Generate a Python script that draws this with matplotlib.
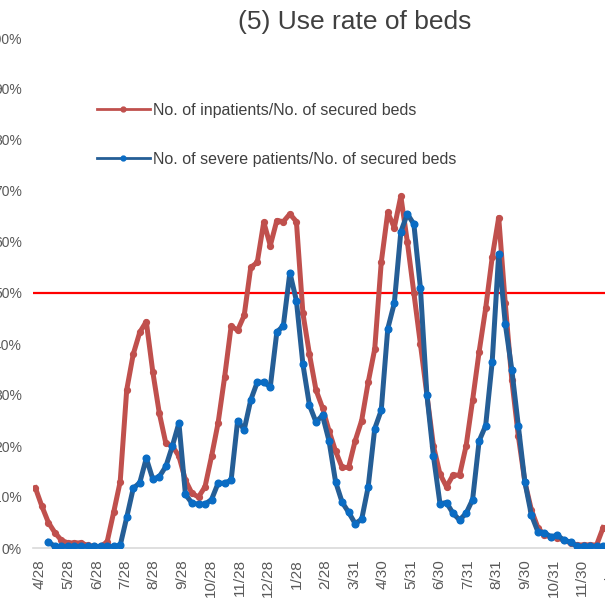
import numpy as np
import pandas as pd
import matplotlib
matplotlib.use("Agg")
import matplotlib.pyplot as plt
from matplotlib.lines import Line2D

plt.rcParams['font.family'] = ['Liberation Sans', 'DejaVu Sans']

# Weekly observations, starting 2020-04-23
start_date = "2020-04-23"
n_weeks = 88

# No. of inpatients / No. of secured beds (%)
inpatient_rate = [
    11.8, 8.2, 5.0, 3.0, 1.5, 1.0, 1.0, 1.0, 0.5, 0.3,
    0.3, 1.2, 7.0, 13.0, 31.0, 38.0, 42.3, 44.4, 34.5, 26.4,
    20.5, 20.0, 18.0, 13.3, 10.7, 10.0, 12.0, 18.0, 24.5, 33.5,
    43.5, 42.7, 45.6, 55.0, 56.0, 63.9, 59.3, 64.2, 64.0, 65.5,
    64.0, 46.0, 38.0, 31.0, 27.5, 23.0, 19.0, 15.8, 15.8, 21.0,
    25.0, 32.5, 39.0, 56.0, 65.8, 62.8, 69.0, 60.0, 50.0, 40.0,
    30.0, 20.0, 14.5, 12.0, 14.3, 14.3, 20.0, 29.0, 38.5, 47.0,
    57.0, 64.8, 48.0, 33.0, 22.0, 13.0, 7.5, 4.0, 2.5, 2.2,
    2.0, 1.5, 1.0, 0.6, 0.6, 0.6, 0.6, 4.0,
]

# No. of severe patients / No. of secured beds (%)
severe_rate = [
    np.nan, np.nan, 1.2, 0.3, 0.3, 0.3, 0.3, 0.3, 0.3, 0.3,
    0.3, 0.3, 0.3, 0.5, 6.0, 11.7, 12.8, 17.6, 13.5, 14.0,
    16.0, 20.0, 24.5, 10.5, 8.8, 8.6, 8.6, 9.5, 12.7, 12.7,
    13.3, 25.0, 23.2, 29.0, 32.5, 32.5, 31.6, 42.3, 43.6, 54.0,
    48.5, 36.0, 28.0, 24.7, 26.0, 21.0, 13.0, 9.0, 7.0, 4.8,
    5.6, 12.0, 23.4, 27.0, 43.0, 48.0, 62.0, 65.5, 63.5, 51.0,
    30.0, 18.0, 8.7, 8.9, 6.8, 5.5, 6.8, 9.5, 21.0, 24.0,
    36.5, 57.7, 44.0, 35.0, 24.0, 13.0, 6.5, 3.2, 3.0, 2.2,
    2.5, 1.5, 1.2, 0.3, 0.3, 0.3, 0.3, 0.3,
]

threshold = 50.0

tick_dates = [
    "2020-04-28", "2020-05-28", "2020-06-28", "2020-07-28", "2020-08-28",
    "2020-09-28", "2020-10-28", "2020-11-28", "2020-12-28", "2021-01-28",
    "2021-02-28", "2021-03-31", "2021-04-30", "2021-05-31", "2021-06-30",
    "2021-07-31", "2021-08-31", "2021-09-30", "2021-10-31", "2021-11-30",
    "2021-12-31",
]
tick_labels = [
    "4/28", "5/28", "6/28", "7/28", "8/28", "9/28", "10/28", "11/28",
    "12/28", "1/28", "2/28", "3/31", "4/30", "5/31", "6/30", "7/31",
    "8/31", "9/30", "10/31", "11/30", "12/31",
]
y_ticks = [0, 10, 20, 30, 40, 50, 60, 70, 80, 90, 100]

dates = pd.date_range(start_date, periods=n_weeks, freq="7D")

W, H = 605, 613
fig = plt.figure(figsize=(W / 100, H / 100), dpi=100)

# Plot area: left edge at 33 px, bottom at 548 px, runs past the right edge
ax_left, ax_right = 33, 640
ax_bottom, ax_top = 548, 38
ax = fig.add_axes([ax_left / W, 1 - ax_bottom / H,
                   (ax_right - ax_left) / W, (ax_bottom - ax_top) / H])

px_per_day = 541.7 / 581.0
ref = pd.Timestamp("2020-04-28")
x0 = ref - pd.Timedelta(days=(40 - ax_left) / px_per_day)
x1 = ref + pd.Timedelta(days=(ax_right - 40) / px_per_day)
ax.set_xlim(x0, x1)
ax.set_ylim(0, 100)

red = "#C0504D"
blue_line = "#255E96"
blue_marker = "#0A6CC4"

ax.axhline(threshold, color="#FF0000", lw=1.6, zorder=1)

ax.plot(dates, inpatient_rate, color=red, lw=3.6, marker="o", ms=4.2,
        mfc=red, mec=red, zorder=2, solid_joinstyle="round")
ax.plot(dates, severe_rate, color=blue_line, lw=3.6, marker="o", ms=4.8,
        mfc=blue_marker, mec=blue_marker, zorder=3, solid_joinstyle="round")

for s in ["top", "right", "left"]:
    ax.spines[s].set_visible(False)
ax.spines["bottom"].set_color("#D9D9D9")
ax.spines["bottom"].set_linewidth(1.2)

ax.set_xticks(pd.to_datetime(tick_dates))
ax.set_xticklabels(tick_labels, rotation=90, fontsize=11, color="#595959")
ax.set_yticks(y_ticks)
ax.set_yticklabels([f"{v}%" for v in y_ticks], fontsize=10, color="#595959")
ax.tick_params(axis="x", length=0, pad=8)
ax.tick_params(axis="y", length=0, pad=8)

fig.text(355 / W, 1 - 22 / H, "(5) Use rate of beds", ha="center",
         va="center", fontsize=19, color="#404040")

handles = [
    Line2D([], [], color=red, lw=2, marker="o", ms=3.5, mfc=red, mec=red),
    Line2D([], [], color=blue_line, lw=2, marker="o", ms=3.5,
           mfc=blue_marker, mec=blue_marker),
]
labels = ["No. of inpatients/No. of secured beds",
          "No. of severe patients/No. of secured beds"]
fig.legend(handles, labels, loc="upper left",
           bbox_to_anchor=(97 / W, 1 - 103 / H), frameon=False,
           fontsize=11.5, handlelength=3.3, handletextpad=0.2,
           labelspacing=2.12, borderpad=0, borderaxespad=0,
           labelcolor="#404040")

fig.savefig("out.png", dpi=100)
